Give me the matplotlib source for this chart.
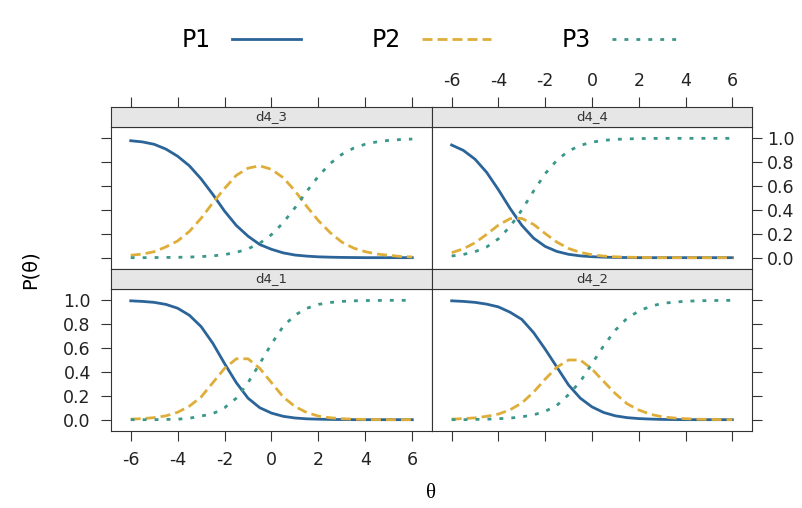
import matplotlib.pyplot as plt
from matplotlib.lines import Line2D

plt.rcParams['font.family'] = ['DejaVu Sans']
plt.rcParams['axes.unicode_minus'] = False

# theta grid, -6 to 6 by 0.5
theta = [-6.0, -5.5, -5.0, -4.5, -4.0, -3.5, -3.0, -2.5, -2.0, -1.5, -1.0, -0.5, 0.0,
         0.5, 1.0, 1.5, 2.0, 2.5, 3.0, 3.5, 4.0, 4.5, 5.0, 5.5, 6.0]

# trace lines, one list per category and item
d4_3_p1 = [0.980, 0.970, 0.950, 0.910, 0.850, 0.770, 0.660, 0.530, 0.390, 0.270, 0.180, 0.110, 0.070,
           0.040, 0.022, 0.013, 0.007, 0.004, 0.002, 0.001, 0.000, 0.000, 0.000, 0.000, 0.000]
d4_3_p2 = [0.020, 0.030, 0.050, 0.090, 0.140, 0.220, 0.330, 0.460, 0.580, 0.690, 0.750, 0.770, 0.740,
           0.670, 0.560, 0.430, 0.310, 0.210, 0.130, 0.080, 0.050, 0.030, 0.020, 0.010, 0.006]
d4_3_p3 = [0.000, 0.000, 0.001, 0.002, 0.003, 0.005, 0.009, 0.015, 0.026, 0.044, 0.074, 0.121, 0.193,
           0.293, 0.418, 0.555, 0.683, 0.789, 0.866, 0.918, 0.951, 0.971, 0.983, 0.990, 0.994]

d4_4_p1 = [0.944, 0.899, 0.825, 0.714, 0.569, 0.412, 0.271, 0.164, 0.094, 0.052, 0.028, 0.015, 0.008,
           0.004, 0.002, 0.001, 0.000, 0.000, 0.000, 0.000, 0.000, 0.000, 0.000, 0.000, 0.000]
d4_4_p2 = [0.042, 0.074, 0.125, 0.196, 0.273, 0.327, 0.329, 0.279, 0.202, 0.130, 0.077, 0.044, 0.024,
           0.013, 0.007, 0.004, 0.002, 0.001, 0.000, 0.000, 0.000, 0.000, 0.000, 0.000, 0.000]
d4_4_p3 = [0.014, 0.027, 0.050, 0.090, 0.158, 0.261, 0.400, 0.557, 0.704, 0.817, 0.894, 0.941, 0.968,
           0.983, 0.991, 0.995, 0.998, 0.999, 1.000, 1.000, 1.000, 1.000, 1.000, 1.000, 1.000]

d4_1_p1 = [0.996, 0.991, 0.983, 0.966, 0.934, 0.875, 0.780, 0.640, 0.470, 0.310, 0.180, 0.100, 0.055,
           0.028, 0.014, 0.007, 0.004, 0.002, 0.001, 0.000, 0.000, 0.000, 0.000, 0.000, 0.000]
d4_1_p2 = [0.004, 0.009, 0.017, 0.032, 0.062, 0.113, 0.190, 0.310, 0.430, 0.510, 0.510, 0.430, 0.310,
           0.190, 0.110, 0.060, 0.030, 0.016, 0.008, 0.004, 0.002, 0.001, 0.000, 0.000, 0.000]
d4_1_p3 = [0.000, 0.000, 0.000, 0.002, 0.004, 0.012, 0.030, 0.050, 0.100, 0.180, 0.310, 0.470, 0.635,
           0.782, 0.876, 0.933, 0.966, 0.982, 0.991, 0.996, 0.998, 0.999, 1.000, 1.000, 1.000]

d4_2_p1 = [0.996, 0.991, 0.983, 0.968, 0.945, 0.900, 0.840, 0.730, 0.590, 0.440, 0.290, 0.180, 0.107,
           0.060, 0.032, 0.017, 0.009, 0.005, 0.002, 0.001, 0.000, 0.000, 0.000, 0.000, 0.000]
d4_2_p2 = [0.004, 0.009, 0.015, 0.028, 0.047, 0.083, 0.140, 0.230, 0.340, 0.440, 0.500, 0.500, 0.424,
           0.320, 0.218, 0.133, 0.081, 0.045, 0.024, 0.014, 0.008, 0.004, 0.002, 0.001, 0.000]
d4_2_p3 = [0.000, 0.000, 0.002, 0.004, 0.008, 0.013, 0.024, 0.040, 0.070, 0.120, 0.210, 0.320, 0.469,
           0.620, 0.750, 0.850, 0.910, 0.950, 0.974, 0.985, 0.992, 0.996, 0.998, 0.999, 1.000]

curves = {'d4_3': (d4_3_p1, d4_3_p2, d4_3_p3), 'd4_4': (d4_4_p1, d4_4_p2, d4_4_p3),
          'd4_1': (d4_1_p1, d4_1_p2, d4_1_p3), 'd4_2': (d4_2_p1, d4_2_p2, d4_2_p3)}
series = ['P1', 'P2', 'P3']
yticks = [0.0, 0.2, 0.4, 0.6, 0.8, 1.0]
xticks = [-6, -4, -2, 0, 2, 4, 6]

blue, gold, teal = '#2b6498', '#dfae3a', '#3a978a'
lw = 2.0
styles = [dict(color=blue, lw=lw, ls='-'),
          dict(color=gold, lw=lw, ls=(0, (3.6, 1.8))),
          dict(color=teal, lw=lw, ls=(0, (1.4, 2.9)))]
W, H = 803, 508


def fr(x0, y0, x1, y1):
    # pixel box (from top left) -> figure rect
    return [x0 / W, 1 - y1 / H, (x1 - x0) / W, (y1 - y0) / H]


fig = plt.figure(figsize=(8.03, 5.08), dpi=100)
cols = [(111, 432), (432, 752)]
rows = [((107, 127), (127, 269)), ((269, 289), (289, 431))]
layout = [('d4_3', 0, 0), ('d4_4', 0, 1), ('d4_1', 1, 0), ('d4_2', 1, 1)]
fc = '#333333'
tsize = 12.5
for name, r, c in layout:
    x0, x1 = cols[c]
    (s0, s1), (q0, q1) = rows[r]
    ax = fig.add_axes(fr(x0, q0, x1, q1))
    for vals, st in zip(curves[name], styles):
        ax.plot(theta, vals, **st)
    ax.set_xlim(-6.84, 6.84)
    ax.set_ylim(-0.095, 1.095)
    ax.set_xticks(xticks)
    ax.set_yticks(yticks)
    ax.set_yticklabels([f"{v:.1f}" for v in yticks])
    for s in ax.spines.values():
        s.set_color(fc)
        s.set_linewidth(0.8)
    ax.tick_params(direction='out', length=7.5, width=0.8, color=fc,
                   labelsize=tsize, labelcolor='#222222')
    ax.tick_params(axis='y', left=(c == 0), right=(c == 1),
                   labelleft=(r == 1 and c == 0), labelright=(r == 0 and c == 1),
                   pad=7 if c == 0 else 3.5)
    ax.tick_params(axis='x', bottom=(r == 1), labelbottom=(r == 1 and c == 0),
                   top=False, pad=7)

    # strip with the panel name
    sax = fig.add_axes(fr(x0, s0, x1, s1))
    sax.set_facecolor('#e6e6e6')
    sax.set_xlim(-6.84, 6.84)
    sax.set_ylim(0, 1)
    sax.set_yticks([])
    sax.set_xticks(xticks)
    for s in sax.spines.values():
        s.set_color(fc)
        s.set_linewidth(0.8)
    sax.tick_params(axis='x', bottom=False, labelbottom=False, top=(r == 0),
                    labeltop=(r == 0 and c == 1), direction='out', length=7.5,
                    width=0.8, color=fc, labelsize=tsize, labelcolor='#222222', pad=5)
    sax.text(0.5, 0.5, name, transform=sax.transAxes, ha='center', va='center',
             fontsize=9.5, color='#333333')

handles = [Line2D([], [], **st) for st in styles]
fig.legend(handles, series, loc='center', bbox_to_anchor=(0.537, 0.921),
           ncol=3, frameon=False, markerfirst=False, fontsize=17,
           handlelength=2.9, handletextpad=0.9, columnspacing=3.0)
fig.text(30 / W, 1 - 270 / H, 'P(θ)', rotation=90, ha='center', va='center', fontsize=14)
fig.text(431 / W, 1 - 494 / H, 'θ', ha='center', va='center', fontsize=15,
         family='Liberation Serif')
fig.savefig('out.png', dpi=100)
